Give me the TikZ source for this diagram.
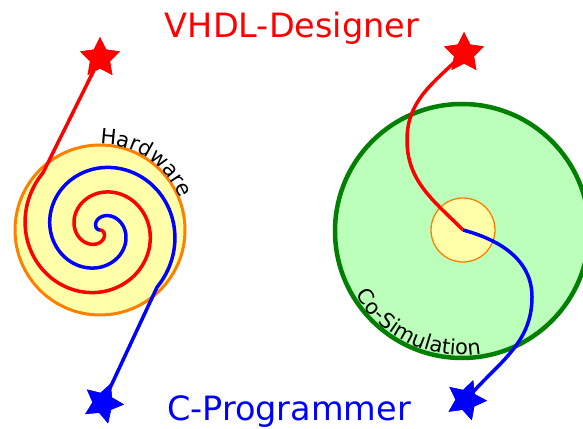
\documentclass[tikz,border=0pt]{standalone}
\usepackage{fontspec}
\setmainfont{DejaVu Sans}
\usetikzlibrary{shapes.geometric,decorations.text}
\definecolor{hwfill}{HTML}{FFFFAA}
\definecolor{hwedge}{HTML}{FF7F00}
\definecolor{simfill}{HTML}{BBFFBB}
\definecolor{simedge}{HTML}{008000}
\tikzset{
  starmark/.style={star, star points=5, star point ratio=2.0, minimum size=42pt,
    inner sep=0pt, draw=none, fill=#1},
  wire/.style={line width=3.5pt, #1, line join=round},
  title/.style={font=\fontsize{33.5}{38}\selectfont, anchor=base, inner sep=0pt},
}
\begin{document}
\begin{tikzpicture}[x=1pt,y=1pt]
  \useasboundingbox (0,0) rectangle (583,428);
  \clip (0,0) rectangle (583,428);

  % ---- left: hardware spiral ----
  \coordinate (hw) at (100,198);
  \draw[hwedge, fill=hwfill, line width=3pt] (hw) circle[radius=85];
  \node[starmark=red] (rstarA) at (100,370) {};
  \node[starmark=blue, rotate=-22] (bstarA) at (103,25) {};
  \draw[wire=red] plot[smooth, domain=0:585, samples=200, variable=\s]
      ({100+0.1380*\s*cos(-\s)},{198+0.1380*\s*sin(-\s)}) -- (rstarA.center);
  \draw[wire=blue] plot[smooth, domain=0:585, samples=200, variable=\s]
      ({100+0.1380*\s*cos(180-\s)},{198+0.1380*\s*sin(180-\s)}) -- (bstarA.center);
  \node[starmark=red] at (rstarA) {};
  \node[starmark=blue, rotate=-22] at (bstarA) {};
  \path[decorate, decoration={text along path, text align=left,
      text={|\fontsize{21}{24}\selectfont|Hardware}}]
    (hw) ++(90:86) arc[start angle=90, end angle=5, radius=86];

  % ---- right: co-simulation ----
  \coordinate (cs) at (462,197);
  \draw[simedge, fill=simfill, line width=4.5pt] (cs) circle[radius=127];
  \node[circle, draw=hwedge, fill=hwfill, line width=1.3pt, minimum size=64pt,
        inner sep=0pt] (core) at (463,198) {};
  \node[starmark=red] (rstarB) at (464,375) {};
  \node[starmark=blue, rotate=-20] (bstarB) at (466,28) {};
  \draw[wire=red] (core.center) to[out=135,in=-90] (407,288)
      to[out=90,in=-135] (rstarB.center);
  \draw[wire=blue] (core.center) to[out=-15,in=90] (532,131)
      to[out=-90,in=50] (bstarB.center);
  \node[starmark=red] at (rstarB) {};
  \node[starmark=blue, rotate=-20] at (bstarB) {};
  \path[decorate, decoration={text along path, text align=left,
      text={|\fontsize{21}{24}\selectfont|Co-Simulation}}]
    (cs) ++(211:124) arc[start angle=211, end angle=290, radius=124];

  % ---- titles ----
  \node[title, text=red] (vhdl) at (292,390) {VHDL-Designer};
  \node[title, text=blue] (cprog) at (289,8) {C-Programmer};
\end{tikzpicture}
\end{document}
